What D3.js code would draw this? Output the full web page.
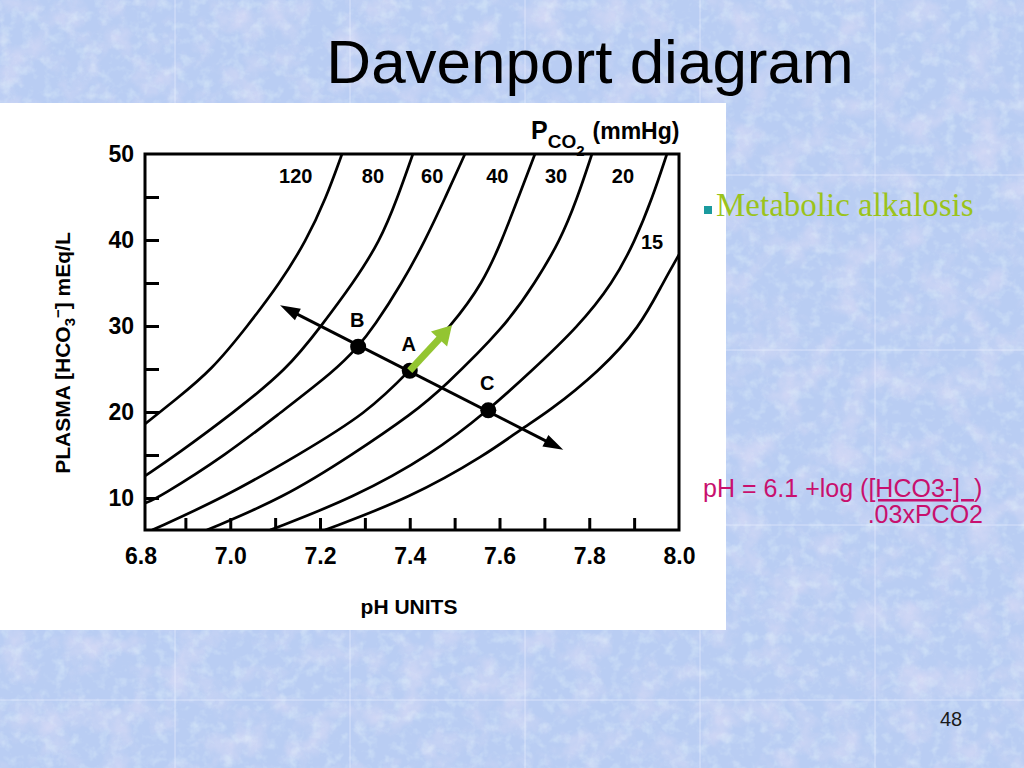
<!DOCTYPE html>
<html><head><meta charset="utf-8">
<script src="https://cdn.jsdelivr.net/npm/d3@7"></script>
<style>html,body{margin:0;padding:0;overflow:hidden;background:#b9cdf3}</style>
</head><body><svg id="c" width="1024" height="768"></svg>
<script>
// ---------- data (pH, plasma HCO3- mEq/L) ----------
const pco2Levels = [120, 80, 60, 40, 30, 20, 15];
const iso120 = [[6.810,18.6],[6.877,21.4],[6.959,24.9],[7.037,29.9],[7.111,35.0],[7.169,39.9],[7.213,44.8],[7.249,50.0]];
const iso80  = [[6.811,12.6],[6.882,15.1],[7.006,19.9],[7.126,24.9],[7.204,30.1],[7.274,35.0],[7.334,39.9],[7.372,44.8],[7.407,50.0]];
const iso60  = [[6.810,9.4],[6.839,10.0],[6.993,15.1],[7.111,19.9],[7.233,24.8],[7.285,27.6],[7.320,29.9],[7.383,35.0],[7.434,39.9],[7.478,44.8],[7.523,50.0]];
const iso40  = [[6.826,6.28],[6.984,10.0],[7.155,15.1],[7.305,19.9],[7.400,24.8],[7.494,30.1],[7.563,35.0],[7.605,39.9],[7.641,44.8],[7.679,50.0]];
const iso30  = [[6.948,6.28],[7.118,10.0],[7.274,15.1],[7.408,19.9],[7.474,22.8],[7.612,29.9],[7.679,35.0],[7.735,39.9],[7.773,44.8],[7.806,50.0]];
const iso20  = [[7.089,6.28],[7.274,10.0],[7.450,15.1],[7.575,20.2],[7.672,24.8],[7.775,29.9],[7.853,35.0],[7.902,39.9],[7.940,44.8],[7.973,50.0]];
const iso15  = [[7.211,6.28],[7.401,10.0],[7.572,15.1],[7.650,18.1],[7.706,19.9],[7.824,24.8],[7.913,29.9],[7.964,35.0],[8.000,38.3]];
const isopleths = [iso120, iso80, iso60, iso40, iso30, iso20, iso15];
const isoLabelPos = [[7.146,47.4],[7.318,47.4],[7.450,47.4],[7.595,47.4],[7.726,47.4],[7.875,47.4],[7.940,39.8]];

const pointNames = ["B", "A", "C"];
const pointPH    = [7.285, 7.400, 7.575];
const pointHCO3  = [27.6, 24.8, 20.2];
const bufferLine = [[7.111, 32.4], [7.742, 15.6]];
const metabolicArrow = [[7.400, 24.8], [7.494, 30.1]];

const xDomain = [6.81, 8.0];
const yDomain = [6.28, 50];
const xTickValues  = [6.9, 7.0, 7.1, 7.2, 7.3, 7.4, 7.5, 7.6, 7.7, 7.8, 7.9];
const xLabelValues = [6.8, 7.0, 7.2, 7.4, 7.6, 7.8, 8.0];
const yTickValues  = [10, 15, 20, 25, 30, 35, 40, 45];
const yLabelValues = [10, 20, 30, 40, 50];

// ---------- drawing ----------
const svg = d3.select("#c");
const defs = svg.append("defs");
const f1 = defs.append("filter").attr("id","tex").attr("x",0).attr("y",0).attr("width","100%").attr("height","100%");
f1.append("feTurbulence").attr("type","fractalNoise").attr("baseFrequency","0.03").attr("numOctaves",4).attr("seed",7);
f1.append("feColorMatrix").attr("type","matrix").attr("values","0 0 0 0 0.90  0 0 0 0 0.80  0 0 0 0 0.94  2.2 0 0 0 -1.0");
const f2 = defs.append("filter").attr("id","tex2").attr("x",0).attr("y",0).attr("width","100%").attr("height","100%");
f2.append("feTurbulence").attr("type","fractalNoise").attr("baseFrequency","0.09").attr("numOctaves",3).attr("seed",3);
f2.append("feColorMatrix").attr("type","matrix").attr("values","0 0 0 0 0.80  0 0 0 0 0.93  0 0 0 0 0.97  0 2.4 0 0 -1.15");

svg.append("rect").attr("width",1024).attr("height",768).attr("fill","#b9cdf3");
svg.append("rect").attr("width",1024).attr("height",768).attr("filter","url(#tex)").attr("opacity",0.45);
svg.append("rect").attr("width",1024).attr("height",768).attr("filter","url(#tex2)").attr("opacity",0.4);
const seams = d3.range(175, 1024, 175);
svg.selectAll("line.vs").data(seams).enter().append("line")
  .attr("x1",d=>d).attr("x2",d=>d).attr("y1",0).attr("y2",768)
  .attr("stroke","#eef3ff").attr("stroke-opacity",0.55).attr("stroke-width",1);
svg.selectAll("line.hs").data(seams.filter(d=>d<768)).enter().append("line")
  .attr("y1",d=>d).attr("y2",d=>d).attr("x1",0).attr("x2",1024)
  .attr("stroke","#eef3ff").attr("stroke-opacity",0.55).attr("stroke-width",1);

// title
svg.append("text").attr("x",590).attr("y",83).attr("text-anchor","middle")
  .attr("font-family","Liberation Sans, Arial, sans-serif").attr("font-size",62).attr("fill","#000")
  .text("Davenport diagram");

// white panel
svg.append("rect").attr("x",0).attr("y",103).attr("width",726).attr("height",527).attr("fill","#fff");

const x = d3.scaleLinear().domain(xDomain).range([145, 679]);
const y = d3.scaleLinear().domain(yDomain).range([530, 154]);
const font = "Liberation Sans, Arial, sans-serif";

const plot = svg.append("g");
defs.append("clipPath").attr("id","clip").append("rect")
  .attr("x",x(xDomain[0])).attr("y",y(yDomain[1])).attr("width",x(xDomain[1])-x(xDomain[0])).attr("height",y(yDomain[0])-y(yDomain[1]));

// isopleths
const line = d3.line().x(d=>x(d[0])).y(d=>y(d[1])).curve(d3.curveBasis);
plot.append("g").attr("clip-path","url(#clip)").selectAll("path").data(isopleths).enter().append("path")
  .attr("d", line).attr("fill","none").attr("stroke","#000").attr("stroke-width",2.7);

// frame
plot.append("rect").attr("x",x(xDomain[0])).attr("y",y(yDomain[1]))
  .attr("width",x(xDomain[1])-x(xDomain[0])).attr("height",y(yDomain[0])-y(yDomain[1]))
  .attr("fill","none").attr("stroke","#000").attr("stroke-width",3);

// x axis ticks (inside) and labels
const gx = plot.append("g").attr("transform",`translate(0,${y(yDomain[0])})`)
  .call(d3.axisBottom(x).tickValues(xTickValues).tickSize(-12).tickFormat(""));
gx.select(".domain").remove();
gx.selectAll(".tick line").attr("stroke","#000").attr("stroke-width",3);
const gxl = plot.append("g").attr("transform",`translate(0,${y(yDomain[0])})`)
  .call(d3.axisBottom(x).tickValues(xLabelValues).tickSize(0).tickPadding(18).tickFormat(d3.format(".1f")));
gxl.select(".domain").remove();
gxl.selectAll("text").attr("font-family",font).attr("font-weight","bold").attr("font-size",23).attr("fill","#000");

// y axis ticks and labels
const gy = plot.append("g").attr("transform",`translate(${x(xDomain[0])},0)`)
  .call(d3.axisLeft(y).tickValues(yTickValues).tickSize(-14).tickFormat(""));
gy.select(".domain").remove();
gy.selectAll(".tick line").attr("stroke","#000").attr("stroke-width",3);
const gyl = plot.append("g").attr("transform",`translate(${x(xDomain[0])},0)`)
  .call(d3.axisLeft(y).tickValues(yLabelValues).tickSize(0).tickPadding(11).tickFormat(d3.format("d")));
gyl.select(".domain").remove();
gyl.selectAll("text").attr("font-family",font).attr("font-weight","bold").attr("font-size",23).attr("fill","#000");

// isopleth labels
plot.selectAll("text.iso").data(pco2Levels).enter().append("text")
  .attr("x",(d,i)=>x(isoLabelPos[i][0])).attr("y",(d,i)=>y(isoLabelPos[i][1])+7)
  .attr("text-anchor","middle").attr("font-family",font).attr("font-weight","bold").attr("font-size",20)
  .text(d=>d);

// PCO2 (mmHg) header
const ph = plot.append("text").attr("x",531).attr("y",139).attr("font-family",font).attr("font-weight","bold").attr("fill","#000");
ph.append("tspan").attr("font-size",25).text("P");
ph.append("tspan").attr("font-size",19).attr("dy",9).text("CO");
ph.append("tspan").attr("font-size",15).attr("dy",8).text("2");
ph.append("tspan").attr("font-size",23).attr("dy",-17).attr("dx",8).text("(mmHg)");

// axis titles
plot.append("text").attr("x",409).attr("y",614).attr("text-anchor","middle")
  .attr("font-family",font).attr("font-weight","bold").attr("font-size",21).text("pH UNITS");
const yt = plot.append("text").attr("transform","translate(70,353) rotate(-90)").attr("text-anchor","middle")
  .attr("font-family",font).attr("font-weight","bold").attr("font-size",21);
yt.append("tspan").text("PLASMA [HCO");
yt.append("tspan").attr("font-size",15).attr("dy",5).text("3");
yt.append("tspan").attr("font-size",15).attr("dy",-12).text("\u2212");
yt.append("tspan").attr("dy",7).text("] mEq/L");

// buffer line with arrowheads
function head(g, p0, p1, len, w, color){
  const ang = Math.atan2(p1[1]-p0[1], p1[0]-p0[0]);
  const c = Math.cos(ang), s = Math.sin(ang);
  const bx = p1[0]-len*c, by = p1[1]-len*s;
  g.append("polygon").attr("points",[[p1[0],p1[1]],[bx - w/2*s, by + w/2*c],[bx + w/2*s, by - w/2*c]].map(p=>p.join(",")).join(" "))
    .attr("fill",color);
  return [bx + 2*c, by + 2*s];
}
const bp = bufferLine.map(d=>[x(d[0]), y(d[1])]);
const ga = plot.append("g");
const s0 = head(ga, bp[1], bp[0], 20, 13, "#000");
const s1 = head(ga, bp[0], bp[1], 20, 13, "#000");
ga.append("line").attr("x1",s0[0]).attr("y1",s0[1]).attr("x2",s1[0]).attr("y2",s1[1])
  .attr("stroke","#000").attr("stroke-width",3);

// points
plot.selectAll("circle.pt").data(pointNames).enter().append("circle")
  .attr("cx",(d,i)=>x(pointPH[i])).attr("cy",(d,i)=>y(pointHCO3[i])).attr("r",8).attr("fill","#000");
plot.selectAll("text.pt").data(pointNames).enter().append("text")
  .attr("x",(d,i)=>x(pointPH[i])-1).attr("y",(d,i)=>y(pointHCO3[i])-20)
  .attr("text-anchor","middle").attr("font-family",font).attr("font-weight","bold").attr("font-size",20).text(d=>d);

// green metabolic arrow
const mp = metabolicArrow.map(d=>[x(d[0]), y(d[1])]);
const gg = plot.append("g");
const ms = head(gg, mp[0], mp[1], 19, 22, "#93c531");
gg.append("line").attr("x1",mp[0][0]).attr("y1",mp[0][1]).attr("x2",ms[0]).attr("y2",ms[1])
  .attr("stroke","#93c531").attr("stroke-width",7);

// right-side text
svg.append("rect").attr("x",704).attr("y",206).attr("width",8).attr("height",8).attr("fill","#1b9a9e");
svg.append("text").attr("x",716).attr("y",216).attr("font-family","Liberation Serif, Times New Roman, serif")
  .attr("font-size",33).attr("fill","#9bc31c").text("Metabolic alkalosis");
const ft = svg.append("text").attr("x",703).attr("y",497).attr("font-family",font).attr("font-size",25).attr("fill","#c8106e")
  .attr("xml:space","preserve").style("white-space","pre");
ft.append("tspan").text("pH = 6.1 +log (");
ft.append("tspan").attr("text-decoration","underline").text("[HCO3-]  ");
ft.append("tspan").text(")");
svg.append("text").attr("x",983).attr("y",523).attr("text-anchor","end").attr("font-family",font).attr("font-size",25)
  .attr("fill","#c8106e").text(".03xPCO2");
svg.append("text").attr("x",951).attr("y",726).attr("text-anchor","middle").attr("font-family",font).attr("font-size",20)
  .attr("fill","#1a1a1a").text("48");
</script></body></html>
